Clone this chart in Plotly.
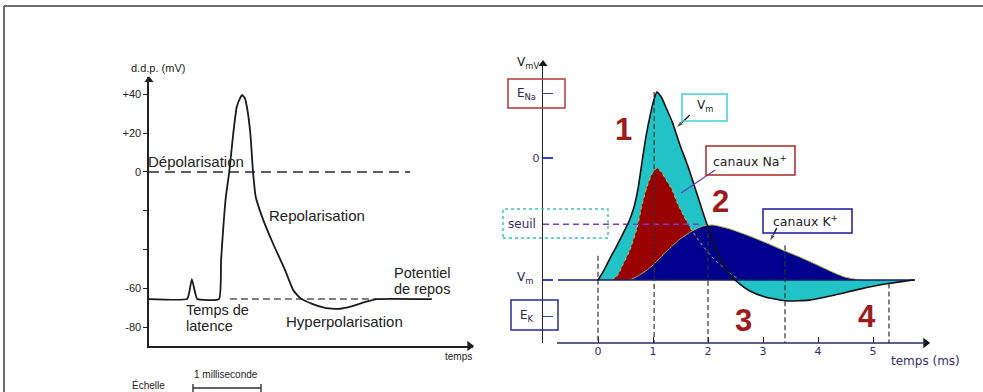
import plotly.graph_objects as go

W, H = 983, 392
FONT = "Liberation Sans, Arial, sans-serif"
FONT_R = "DejaVu Sans, Verdana, sans-serif"

# ---------------- Left panel data (time in ms, potential in mV) ----------------
AP_T = [0, 0.56, 0.59, 0.63, 0.68, 0.71, 1.03, 1.06, 1.09, 1.13, 1.18, 1.24, 1.29, 1.34,
        1.37, 1.41, 1.44, 1.49, 1.53, 1.57, 1.68, 1.82, 2.00, 2.12, 2.22, 2.40, 2.59,
        2.78, 2.99, 3.18, 3.35, 4.16]
AP_MV = [-65.5, -65.5, -62.4, -55.2, -62.4, -65.5, -65.5, -45.4, -29.9, -12.9, 0, 20.1,
         33.5, 38.1, 39.7, 38.1, 33.5, 20.1, 0, -12.9, -24.7, -36.6, -50.5, -60.8, -64.9,
         -68.0, -70.1, -70.6, -69.1, -67.0, -65.5, -65.5]
LEFT_YTICKS = [40, 20, 0, -60, -80]
LEFT_YTICKTEXT = ["+40", "+20", "0", "-60", "-80"]
LEFT_MINOR_TICKS = [-20, -40]
ZERO_LINE_T = [0, 3.84]
ZERO_LINE_MV = [0, 0]
REST_DASH_T = [1.19, 3.35]
REST_DASH_MV = [-65.5, -65.5]

# ---------------- Right panel data ----------------
VM_T = [0, 0.11, 0.22, 0.35, 0.45, 0.56, 0.65, 0.73, 0.80, 0.87, 0.95, 1.02, 1.07, 1.15,
        1.24, 1.35, 1.49, 1.64, 1.80, 1.96, 2.11, 2.25, 2.40, 2.53, 2.76, 3.04, 3.44,
        3.85, 4.31, 4.76, 5.22, 5.58, 5.76]
VM_MV = [-70.0, -64.3, -57.4, -49.9, -43.6, -36.7, -28.7, -17.2, -2.3, 12.0, 24.7, 33.8,
         37.9, 35.0, 28.7, 20.7, 7.5, -5.2, -20.7, -36.1, -49.3, -59.7, -67.1, -71.1,
         -76.3, -79.7, -82.0, -81.5, -78.6, -75.2, -72.3, -70.6, -70.0]
NA_T = [0.25, 0.35, 0.45, 0.58, 0.71, 0.80, 0.89, 0.98, 1.07, 1.15, 1.24, 1.35, 1.44,
        1.56, 1.67, 1.80, 1.95, 2.09, 2.25, 2.40, 2.58]
NA_MV = [-70, -67.7, -61.4, -52.8, -40.2, -27.0, -16.6, -9.2, -5.7, -8.0, -12.6, -18.4,
         -25.8, -33.3, -39.6, -45.9, -52.2, -57.4, -62.0, -66.0, -70]
K_T = [0.58, 0.76, 0.98, 1.25, 1.49, 1.71, 1.91, 2.09, 2.40, 2.71, 3.07, 3.36, 3.67,
       3.95, 4.22, 4.49, 4.76]
K_MV = [-70, -67.1, -62.0, -53.4, -46.5, -41.9, -39.0, -38.4, -40.7, -44.2, -48.8, -52.8,
        -56.8, -60.8, -64.8, -68.3, -70]
BASE_T = [-0.73, 5.76]
BASE_MV = [-70, -70]
SEUIL_T = [-1.0, 1.85]
SEUIL_MV = [-38, -38]
PHASE_T = [0, 1.02, 2.0, 3.4, 5.29]
PHASE_TOP = [-56, 37.9, -38.4, -50, -72]
RIGHT_YTICKS = [0]
RIGHT_YTICKTEXT = ["0"]
RIGHT_MINOR_TICKS = [37, -70, -91]
RIGHT_XTICKS = [0, 1, 2, 3, 4, 5]
# callout pointers (from box corner to the curve), in panel units
VM_PTR_T, VM_PTR_MV = [1.67, 1.42], [24.7, 17.2]
NA_PTR_T, NA_PTR_MV = [2.13, 1.51], [-6.9, -20.1]
K_PTR_T, K_PTR_MV = [3.25, 3.12], [-40.2, -48.0]

# axis ranges
L_XR = [0, 4.765]
L_YR = [-89.7, 48.97]
R_XR = [-1.0, 6.036]
R_YR = [-106.1, 55.08]


def PX(x):
    return x / W


def PY(y):
    return 1 - y / H


fig = go.Figure()

# ---- left traces
fig.add_trace(go.Scatter(x=ZERO_LINE_T, y=ZERO_LINE_MV, mode="lines",
                         line=dict(color="#2a2a2a", width=1.6, dash="10px,6px"),
                         xaxis="x", yaxis="y", hoverinfo="skip"))
fig.add_trace(go.Scatter(x=REST_DASH_T, y=REST_DASH_MV, mode="lines",
                         line=dict(color="#555", width=1.4, dash="7px,4px"),
                         xaxis="x", yaxis="y", hoverinfo="skip"))
fig.add_trace(go.Scatter(x=AP_T, y=AP_MV, mode="lines",
                         line=dict(color="#1a1a1a", width=1.8, shape="spline", smoothing=0.4),
                         xaxis="x", yaxis="y", hoverinfo="skip"))
# axis arrowheads (left)
fig.add_trace(go.Scatter(x=[L_XR[1] - 0.05], y=[L_YR[0]], mode="markers", cliponaxis=False,
                         marker=dict(symbol="triangle-right", size=9, color="#222"),
                         xaxis="x", yaxis="y", hoverinfo="skip"))
fig.add_trace(go.Scatter(x=[0], y=[L_YR[1] - 1.5], mode="markers", cliponaxis=False,
                         marker=dict(symbol="triangle-up", size=8, color="#222"),
                         xaxis="x", yaxis="y", hoverinfo="skip"))

# ---- right traces
fig.add_trace(go.Scatter(x=VM_T, y=VM_MV, mode="lines", fill="toself",
                         fillcolor="#22c3c6", line=dict(width=0, shape="spline", smoothing=0.5),
                         xaxis="x2", yaxis="y2", hoverinfo="skip"))
fig.add_trace(go.Scatter(x=NA_T, y=NA_MV, mode="lines", fill="toself",
                         fillcolor="#990000", line=dict(width=0, shape="spline", smoothing=0.5),
                         xaxis="x2", yaxis="y2", hoverinfo="skip"))
fig.add_trace(go.Scatter(x=K_T, y=K_MV, mode="lines", fill="toself",
                         fillcolor="#00008e", line=dict(color="#b8b840", width=1,
                                                        shape="spline", smoothing=0.5),
                         xaxis="x2", yaxis="y2", hoverinfo="skip"))
fig.add_trace(go.Scatter(x=NA_T, y=NA_MV, mode="lines",
                         line=dict(color="#c8c850", width=1, dash="dot", shape="spline",
                                   smoothing=0.5),
                         xaxis="x2", yaxis="y2", hoverinfo="skip"))
fig.add_trace(go.Scatter(x=SEUIL_T, y=SEUIL_MV, mode="lines",
                         line=dict(color="#7a3cc0", width=1.5, dash="6px,4px"),
                         xaxis="x2", yaxis="y2", hoverinfo="skip"))
px_, py_ = [], []
for t, top in zip(PHASE_T, PHASE_TOP):
    px_ += [t, t, None]
    py_ += [top, R_YR[0], None]
fig.add_trace(go.Scatter(x=px_, y=py_, mode="lines", cliponaxis=False,
                         line=dict(color="#333", width=1.2, dash="5px,3px"),
                         xaxis="x2", yaxis="y2", hoverinfo="skip"))
fig.add_trace(go.Scatter(x=BASE_T, y=BASE_MV, mode="lines",
                         line=dict(color="#1c1c60", width=1.4),
                         xaxis="x2", yaxis="y2", hoverinfo="skip"))
fig.add_trace(go.Scatter(x=VM_T, y=VM_MV, mode="lines",
                         line=dict(color="#111", width=1.6, shape="spline", smoothing=0.5),
                         xaxis="x2", yaxis="y2", hoverinfo="skip"))
# pointers
for tt, vv, col, head in ((VM_PTR_T, VM_PTR_MV, "#111", True),
                          (NA_PTR_T, NA_PTR_MV, "#6040c0", False),
                          (K_PTR_T, K_PTR_MV, "#111", True)):
    fig.add_trace(go.Scatter(x=tt, y=vv, mode="lines+markers" if head else "lines",
                             line=dict(color=col, width=1.3),
                             marker=dict(symbol=["circle", "arrow"], size=[0, 8], color=col,
                                         angleref="previous"),
                             xaxis="x2", yaxis="y2", hoverinfo="skip"))
# right axis arrowheads
fig.add_trace(go.Scatter(x=[R_XR[0]], y=[R_YR[1] - 1.2], mode="markers", cliponaxis=False,
                         marker=dict(symbol="triangle-up", size=8, color="#111"),
                         xaxis="x2", yaxis="y2", hoverinfo="skip"))
fig.add_trace(go.Scatter(x=[R_XR[1] - 0.08], y=[R_YR[0]], mode="markers", cliponaxis=False,
                         marker=dict(symbol="triangle-right", size=9, color="#111"),
                         xaxis="x2", yaxis="y2", hoverinfo="skip"))

# ---- layout / axes
fig.update_layout(
    width=W, height=H, autosize=False, showlegend=False,
    margin=dict(l=0, r=0, t=0, b=0),
    paper_bgcolor="white", plot_bgcolor="white",
    font=dict(family=FONT, color="#222"),
    xaxis=dict(domain=[PX(149), PX(473)], range=L_XR, anchor="y", showline=True,
               linecolor="#222", linewidth=1.6, showticklabels=False, ticks="",
               showgrid=False, zeroline=False, fixedrange=True),
    yaxis=dict(domain=[PY(346), PY(77)], range=L_YR, anchor="x", showline=True,
               linecolor="#222", linewidth=1.6, ticks="outside", ticklen=4,
               tickcolor="#222", tickvals=LEFT_YTICKS, ticktext=LEFT_YTICKTEXT,
               minor=dict(tickvals=LEFT_MINOR_TICKS, ticks="outside", ticklen=4,
                          tickcolor="#222", showgrid=False),
               tickfont=dict(size=11, color="#222"), showgrid=False, zeroline=False),
    xaxis2=dict(domain=[PX(543), PX(930)], range=R_XR, anchor="y2", showline=False,
                ticks="inside", ticklen=6, tickcolor="#222", tickvals=RIGHT_XTICKS,
                tickfont=dict(size=11, color="#303070", family=FONT_R),
                showgrid=False, zeroline=False),
    yaxis2=dict(domain=[PY(343), PY(62)], range=R_YR, anchor="x2", showline=True,
                linecolor="#222", linewidth=1.4, ticks="inside", ticklen=10,
                tickwidth=1.5, tickcolor="#3344bb", tickvals=RIGHT_YTICKS,
                ticktext=RIGHT_YTICKTEXT, tickfont=dict(size=11, color="#402a80",
                                                        family=FONT_R),
                minor=dict(tickvals=RIGHT_MINOR_TICKS, ticks="inside", ticklen=10,
                           tickwidth=1.5, tickcolor="#3344bb", showgrid=False),
                showgrid=False, zeroline=False),
)

# ---- frame
fig.add_shape(type="line", xref="paper", yref="paper", x0=PX(4), x1=1, y0=PY(6), y1=PY(6),
              line=dict(color="#6e6e6e", width=2))
fig.add_shape(type="line", xref="paper", yref="paper", x0=PX(4), x1=PX(4), y0=0, y1=PY(6),
              line=dict(color="#6e6e6e", width=2))

# right x axis line
fig.add_shape(type="line", xref="paper", yref="paper", x0=PX(557), x1=PX(926), y0=PY(343),
              y1=PY(343), line=dict(color="#2a2a60", width=1.5))

# scale bar (1 ms)
fig.add_shape(type="line", xref="paper", yref="paper", x0=PX(193), x1=PX(261), y0=PY(388),
              y1=PY(388), line=dict(color="#333", width=1.6))
for xx in (193, 261):
    fig.add_shape(type="line", xref="paper", yref="paper", x0=PX(xx), x1=PX(xx), y0=PY(384),
                  y1=PY(392), line=dict(color="#333", width=1.4))


def text(s, x, y, size, color="#222", xanchor="left", bold=False, family=FONT):
    if bold:
        s = "<b>" + s + "</b>"
    fig.add_annotation(text=s, x=PX(x), y=PY(y), xref="paper", yref="paper",
                       showarrow=False, xanchor=xanchor, yanchor="middle",
                       font=dict(size=size, color=color, family=family))


def box(x0, y0, x1, y1, color, dash="solid", width=1.5):
    fig.add_shape(type="rect", xref="paper", yref="paper", x0=PX(x0), x1=PX(x1),
                  y0=PY(y1), y1=PY(y0), line=dict(color=color, width=width, dash=dash),
                  fillcolor="rgba(0,0,0,0)")


# ---- left labels
text("d.d.p. (mV)", 129, 68, 11)
text("Dépolarisation", 146, 161, 15)
text("Repolarisation", 267, 216, 15)
text("Potentiel", 392, 273, 14.5)
text("de repos", 392, 289, 14.5)
text("Temps de", 184, 310, 14.5)
text("latence", 184, 326, 14.5)
text("Hyperpolarisation", 284, 321, 15)
text("temps", 443, 356, 10)
text("1 milliseconde", 192, 374, 10)
text("Échelle", 130, 385, 10)

# ---- right labels
text("V<sub>mV</sub>", 515, 63, 12, "#222", family=FONT_R)
box(508, 79, 565, 108, "#b03a3a")
text("E<sub>Na</sub>", 515, 94, 12, "#2a2250", family=FONT_R)
box(503, 209, 608, 238, "#3cc8a8", dash="dot")
text("seuil", 506, 224, 12, "#3a2a60", family=FONT_R)
text("V<sub>m</sub>", 515, 278, 12, "#2a2250", family=FONT_R)
box(511, 300, 558, 330, "#2a2a9a")
text("E<sub>K</sub>", 518, 316, 12, "#2a2250", family=FONT_R)
text("temps (ms)", 889, 361, 12, "#303070", family=FONT_R)

# callouts
box(682, 94, 727, 121, "#40d0d8")
text("V<sub>m</sub>", 695, 106, 12, "#222", family=FONT_R)
box(706, 146, 795, 175, "#a52a2a")
text("canaux Na<sup>+</sup>", 711, 161, 12.5, "#222", family=FONT_R)
box(763, 209, 852, 233, "#1a1aa0")
text("canaux K<sup>+</sup>", 771, 221, 12.5, "#222", family=FONT_R)

# phase numbers
NUM_COLOR = "#9e1b1b"
text("1", 623, 129, 31, NUM_COLOR, xanchor="center", bold=True)
text("2", 720, 201, 31, NUM_COLOR, xanchor="center", bold=True)
text("3", 743, 320, 31, NUM_COLOR, xanchor="center", bold=True)
text("4", 867, 316, 31, NUM_COLOR, xanchor="center", bold=True)

fig.write_html("out.html",
               config={"displayModeBar": False, "staticPlot": True},
               post_script="document.body.style.margin='0';"
                           "document.body.style.overflow='hidden';")
